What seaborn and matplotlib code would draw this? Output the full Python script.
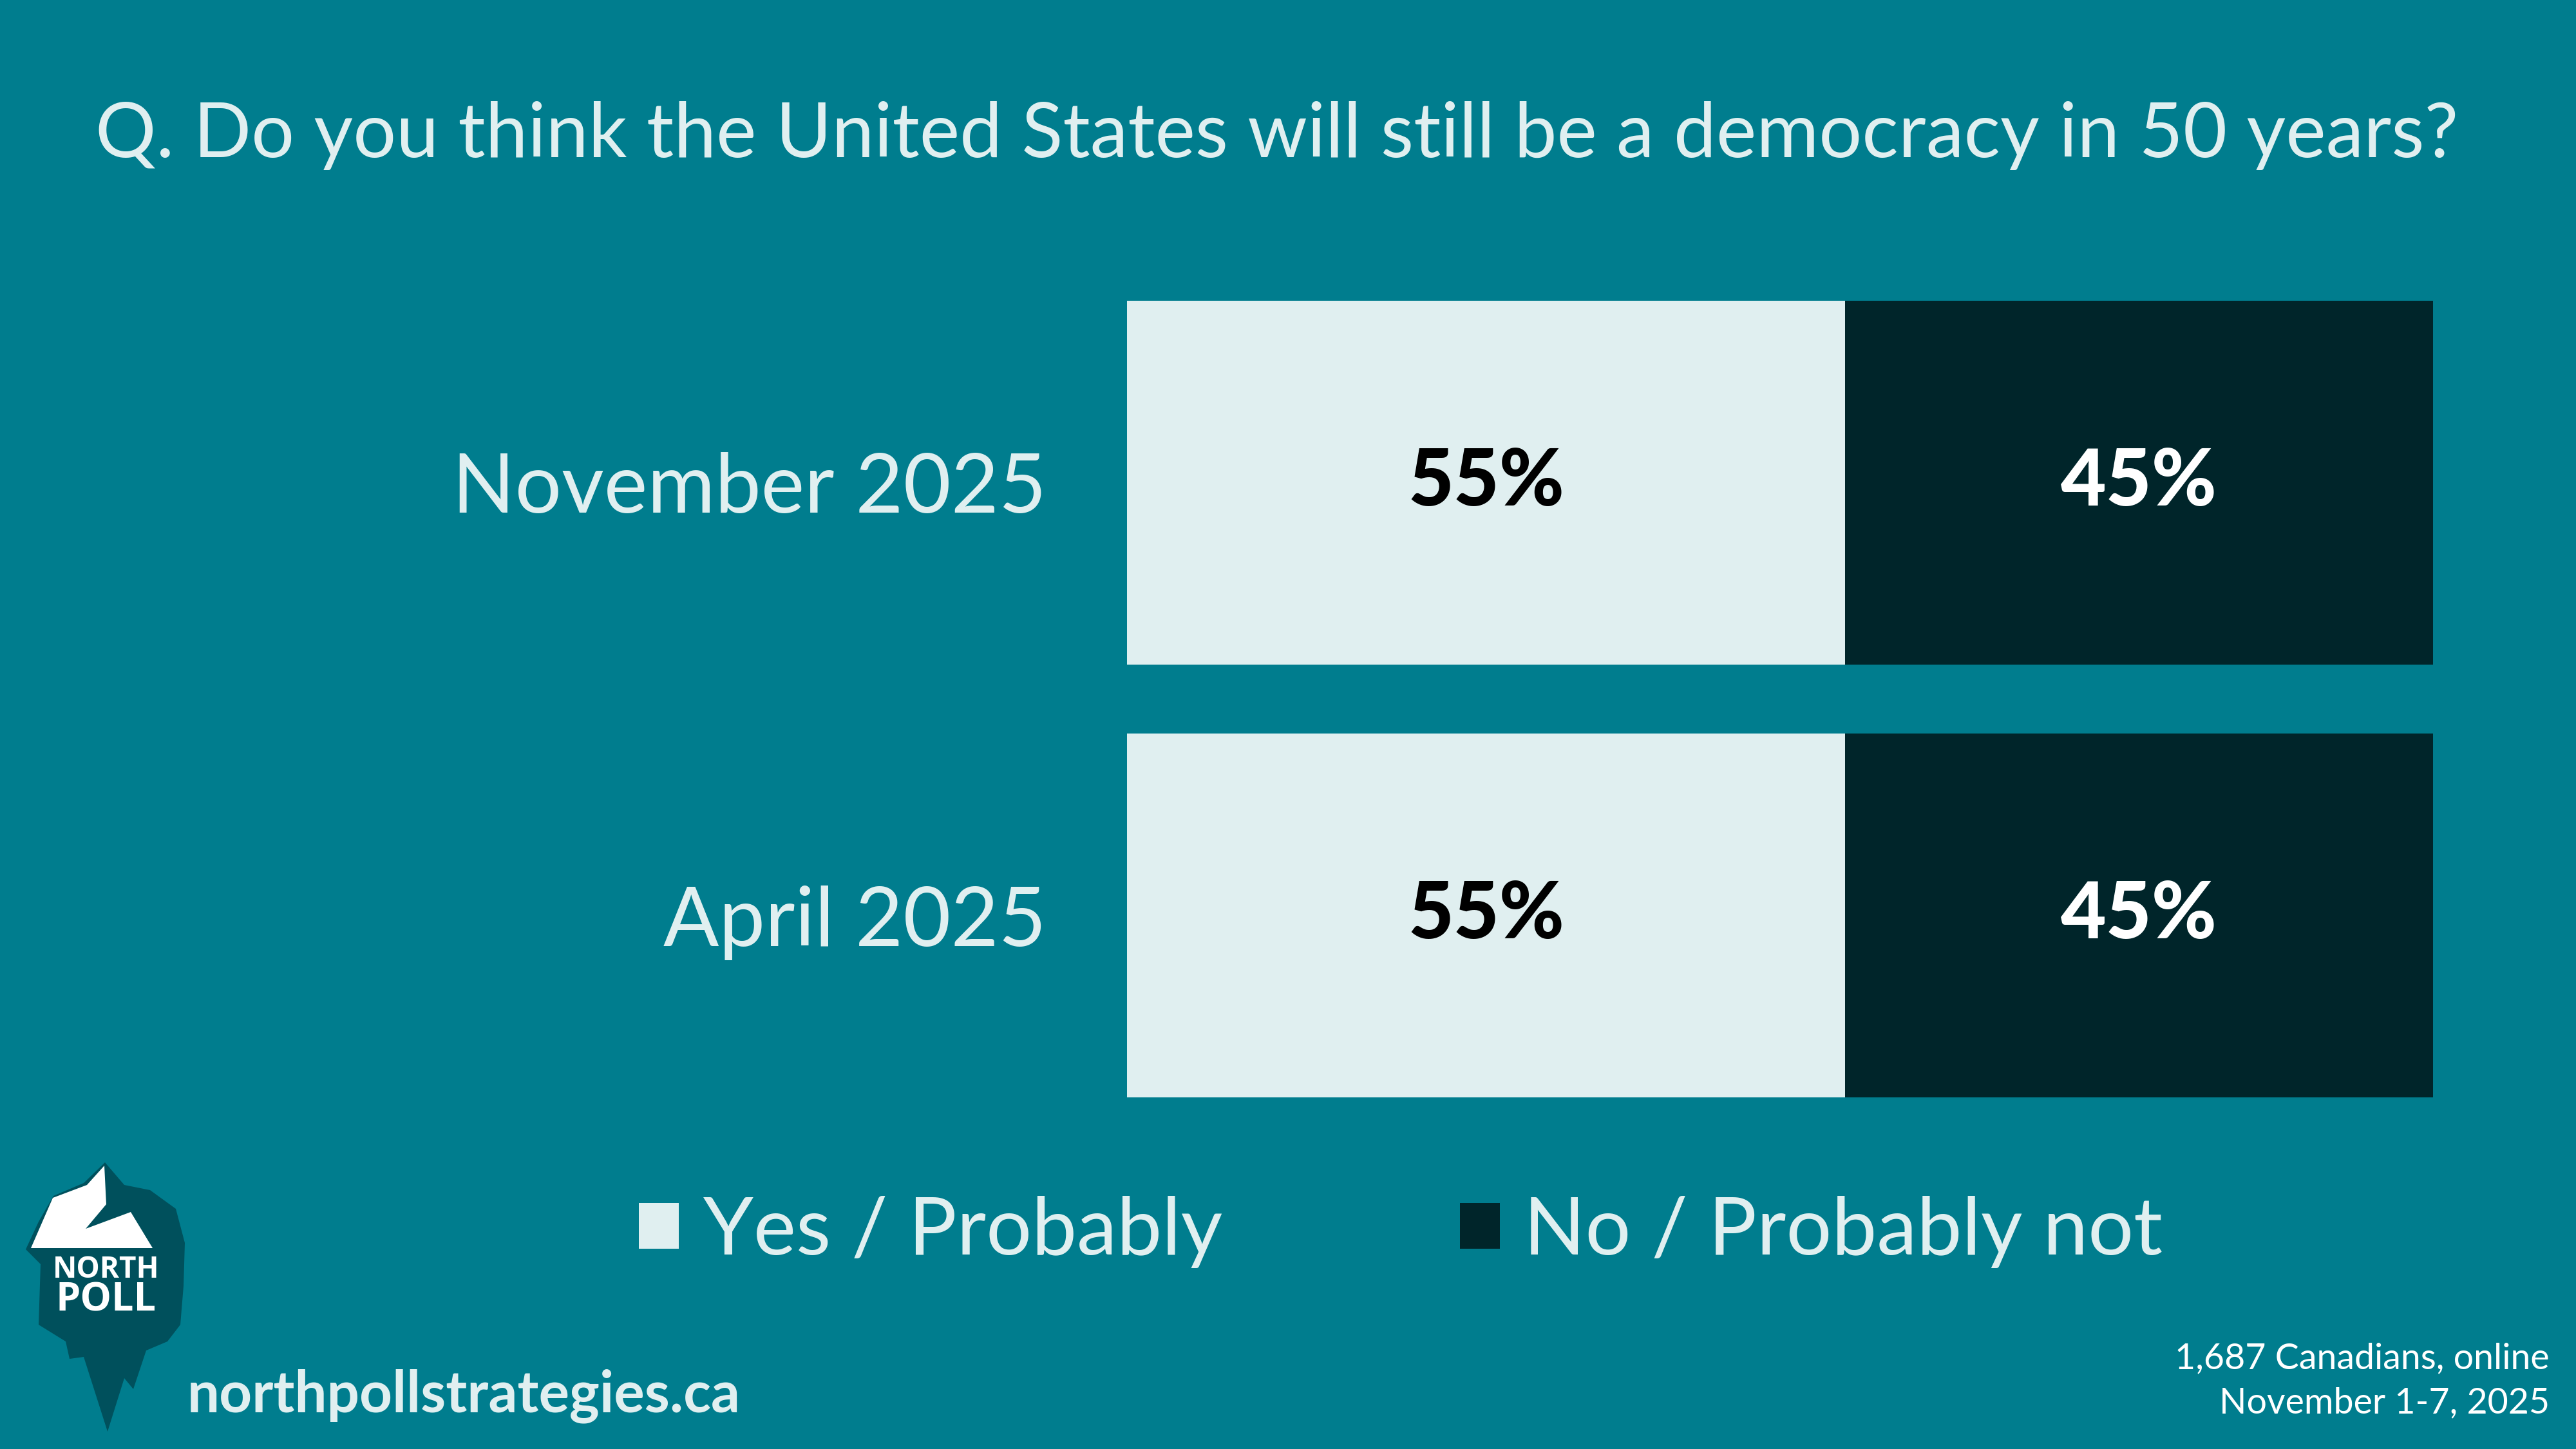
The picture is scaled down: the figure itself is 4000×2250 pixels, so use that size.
import matplotlib
matplotlib.use("Agg")
import matplotlib.pyplot as plt
from matplotlib.patches import Polygon, Patch
import seaborn as sns
import pandas as pd

# data
periods = ["November 2025", "April 2025"]
yes_vals = [55, 55]
no_vals = [45, 45]
answers = ["Yes / Probably", "No / Probably not"]
title = "Q. Do you think the United States will still be a democracy in 50 years?"
sample_note = ["1,687 Canadians, online", "November 1-7, 2025"]
website = "northpollstrategies.ca"

BG = "#007D8E"
LIGHT = "#E0EFF0"
DARK = "#00252A"
LOGO = "#00505C"

sns.set_theme(style="white")
plt.rcParams['font.family'] = ['Lato', 'DejaVu Sans']

W, H = 4000, 2250
fig = plt.figure(figsize=(W / 100, H / 100), dpi=100, facecolor=BG)


def fx(px):
    return px / W


def fy(py):
    return 1 - py / H


# bars axis
ax = fig.add_axes([fx(1750), fy(1704), fx(3778) - fx(1750), fy(467) - fy(1704)])
ax.set_facecolor(BG)

df = pd.DataFrame({"period": periods, "yes": yes_vals, "no": no_vals})
df["total"] = df["yes"] + df["no"]

sns.barplot(data=df, y="period", x="total", color=DARK, width=0.84,
            saturation=1, orient="h", ax=ax, edgecolor="none")
sns.barplot(data=df, y="period", x="yes", color=LIGHT, width=0.84,
            saturation=1, orient="h", ax=ax, edgecolor="none")

ax.set_xlim(0, 100)
ax.set_ylim(1.42, -0.42)
ax.set_xlabel("")
ax.set_ylabel("")
ax.set_xticks([])
sns.despine(ax=ax, left=True, bottom=True)
ax.tick_params(axis="y", length=0, pad=90, labelsize=92, labelcolor=LIGHT)

for i, row in df.iterrows():
    ax.text(row["yes"] / 2, i, f"{row['yes']}%", ha="center", va="center",
            fontsize=88, fontweight="black", color="black")
    ax.text(row["yes"] + row["no"] / 2, i, f"{row['no']}%", ha="center", va="center",
            fontsize=88, fontweight="black", color="white")

# title
fig.text(fx(148), fy(210), title, ha="left", va="center", fontsize=85,
         color=LIGHT)

# legend
handles = [Patch(facecolor=LIGHT, edgecolor="none"), Patch(facecolor=DARK, edgecolor="none")]
fig.legend(handles, answers, loc="center", bbox_to_anchor=(fx(2175), fy(1913)),
           ncol=2, frameon=False, handlelength=0.5, handleheight=0.5,
           handletextpad=0.3, columnspacing=2.95, labelcolor=LIGHT,
           prop={"size": 90})

# footer
fig.text(fx(291), fy(2168), website, ha="left", va="center", fontsize=64,
         fontweight="bold", color=LIGHT)
fig.text(fx(3959), fy(2110), sample_note[0], ha="right", va="center", fontsize=40,
         color="white")
fig.text(fx(3959), fy(2179), sample_note[1], ha="right", va="center", fontsize=40,
         color="white")

# logo (iceberg)
outer = [(163, 1805), (193, 1840), (233, 1848), (273, 1877), (287, 1930), (285, 1997),
         (280, 2057), (260, 2083), (227, 2097), (207, 2157), (193, 2140), (167, 2223),
         (130, 2107), (108, 2110), (102, 2083), (60, 2057), (63, 1963), (40, 1940),
         (60, 1897), (83, 1857), (130, 1837)]
peak = [(162, 1810), (165, 1870), (133, 1908), (203, 1882), (237, 1938), (48, 1938),
        (82, 1860), (135, 1840)]
fig.patches.append(Polygon([(fx(x), fy(y)) for x, y in outer], closed=True,
                           transform=fig.transFigure, facecolor=LOGO, edgecolor="none"))
fig.patches.append(Polygon([(fx(x), fy(y)) for x, y in peak], closed=True,
                           transform=fig.transFigure, facecolor="white", edgecolor="none"))
fig.text(fx(165), fy(1972), "NORTH", ha="center", va="center", fontsize=33,
         fontweight="bold", color="white", family=["Open Sans", "DejaVu Sans"])
fig.text(fx(165), fy(2020), "POLL", ha="center", va="center", fontsize=44,
         fontweight="bold", color="white", family=["Open Sans", "DejaVu Sans"])

fig.savefig("out.png", dpi=100, facecolor=BG)
